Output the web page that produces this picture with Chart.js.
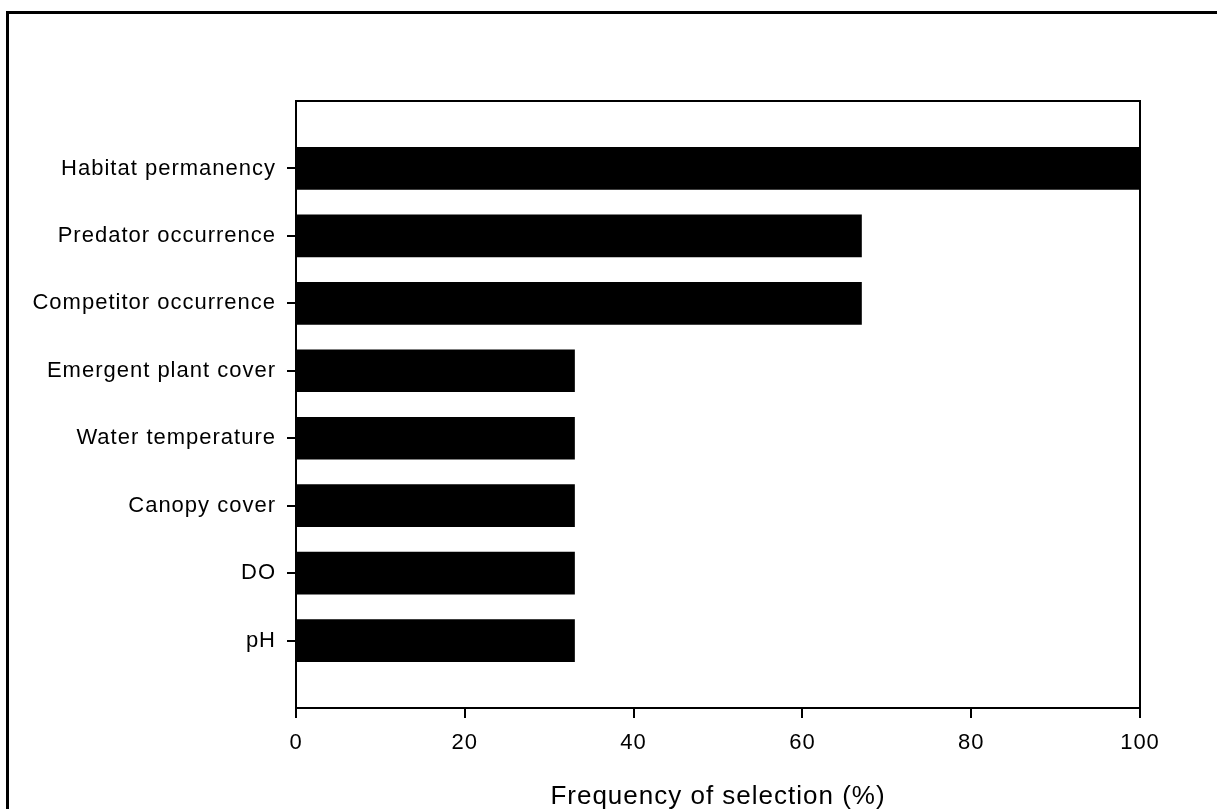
<!DOCTYPE html>
<html>
<head>
<meta charset="utf-8">
<script src="https://cdn.jsdelivr.net/npm/chart.js@4.4.1/dist/chart.umd.min.js"></script>
<style>
    html, body { margin: 0; padding: 0; background: #fff; overflow: hidden; }
    #frame {
        position: absolute; left: 6px; top: 11px;
        width: 1400px; height: 1000px;
        border: 3px solid #000; box-sizing: border-box;
    }
    #wrap { position: absolute; left: 0; top: 0; width: 1217px; height: 809px; }
</style>
</head>
<body>
<div id="frame"></div>
<div id="wrap"><canvas id="freqChart"></canvas></div>
<script>
const categories = [
    'Habitat permanency',
    'Predator occurrence',
    'Competitor occurrence',
    'Emergent plant cover',
    'Water temperature',
    'Canopy cover',
    'DO',
    'pH'
];
const frequency = [100, 67, 67, 33, 33, 33, 33, 33];
const xTicks = [0, 20, 40, 60, 80, 100];
const xTitle = 'Frequency of selection (%)';

document.addEventListener('DOMContentLoaded', () => {
    const ctx = document.getElementById('freqChart').getContext('2d');

    // empty slots above and below so the bars sit a full step from the frame
    const labels = [''].concat(categories, ['']);
    const values = [null].concat(frequency, [null]);

    const plotFrame = {
        id: 'plotFrame',
        beforeDraw(chart) {
            // the original figure has slightly spaced-out lettering
            chart.ctx.letterSpacing = '1px';
        },
        afterDraw(chart) {
            const a = chart.chartArea;
            const c = chart.ctx;
            c.save();
            c.strokeStyle = '#000';
            c.lineWidth = 2;
            c.beginPath();
            c.moveTo(a.left, a.top);
            c.lineTo(a.right, a.top);
            c.lineTo(a.right, a.bottom);
            c.stroke();
            c.restore();
        }
    };

    new Chart(ctx, {
        type: 'bar',
        data: {
            labels: labels,
            datasets: [{
                data: values,
                backgroundColor: '#000',
                borderWidth: 0,
                barThickness: 42
            }]
        },
        options: {
            indexAxis: 'y',
            responsive: true,
            maintainAspectRatio: false,
            animation: false,
            layout: { padding: { top: 101, right: 77, left: 0, bottom: 0 } },
            plugins: {
                legend: { display: false },
                tooltip: { enabled: false }
            },
            scales: {
                x: {
                    type: 'linear',
                    min: 0,
                    max: 100,
                    afterBuildTicks: (scale) => {
                        scale.ticks = xTicks.map(v => ({ value: v }));
                    },
                    afterFit: (scale) => { scale.height = 101; },
                    border: { display: true, color: '#000', width: 2 },
                    grid: {
                        drawOnChartArea: false,
                        drawTicks: true,
                        tickLength: 10,
                        color: '#000',
                        lineWidth: 2
                    },
                    ticks: {
                        color: '#000',
                        padding: 12,
                        font: { family: '"Liberation Sans", Arial, sans-serif', size: 22 }
                    },
                    title: {
                        display: true,
                        text: xTitle,
                        color: '#000',
                        padding: { top: 0, bottom: -3 },
                        font: { family: '"Liberation Sans", Arial, sans-serif', size: 26 }
                    }
                },
                y: {
                    type: 'category',
                    offset: false,
                    afterFit: (scale) => { scale.width = 296; },
                    border: { display: true, color: '#000', width: 2 },
                    grid: {
                        offset: false,
                        drawOnChartArea: false,
                        drawTicks: true,
                        tickLength: 9,
                        lineWidth: 2,
                        tickColor: (c) => (c.tick && c.tick.label) ? '#000' : 'rgba(0,0,0,0)'
                    },
                    ticks: {
                        color: '#000',
                        padding: 11,
                        autoSkip: false,
                        font: { family: '"Liberation Sans", Arial, sans-serif', size: 22 }
                    }
                }
            }
        },
        plugins: [plotFrame]
    });
});
</script>
</body>
</html>
